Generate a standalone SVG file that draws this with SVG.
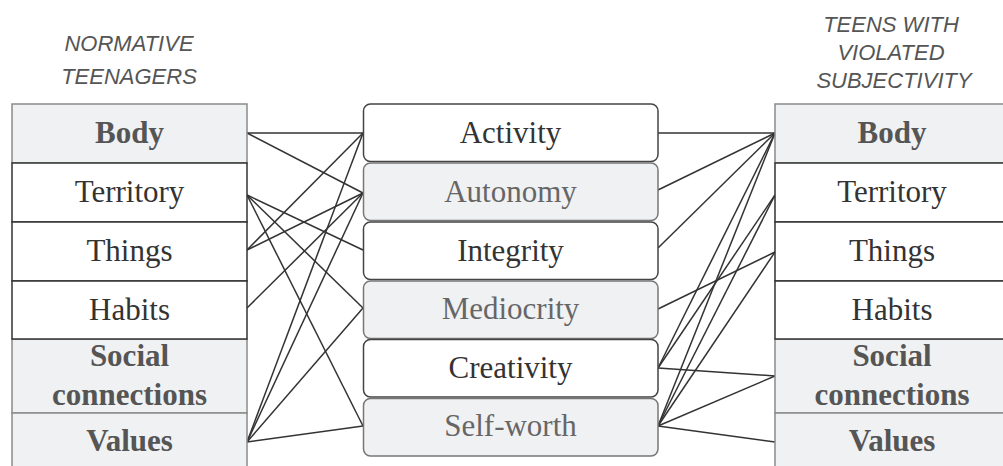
<svg xmlns="http://www.w3.org/2000/svg" width="1003" height="466" viewBox="0 0 1003 466">
<style>
.hdr{font-family:"Liberation Sans",Arial,sans-serif;font-style:italic;font-size:22px;fill:#555;text-anchor:middle}
.lbl{font-family:"Liberation Serif","Times New Roman",serif;font-size:31px;text-anchor:middle}
.b{font-weight:bold;fill:#555}
.r{fill:#333}
.g{fill:#666}
.cg{fill:#f0f1f3;stroke:#8a8a8a;stroke-width:1.5}
.cw{fill:#fff;stroke:#333;stroke-width:1.5}
.mw{fill:#fff;stroke:#444;stroke-width:1.5}
.mg{fill:#f0f1f3;stroke:#777;stroke-width:1.5}
.con line{stroke:#333;stroke-width:1.5}
</style>
<rect width="1003" height="466" fill="#fff"/>
<g id="header-left">
<text class="hdr" x="129" y="51">NORMATIVE</text>
<text class="hdr" x="129" y="84">TEENAGERS</text>
</g>
<g id="header-right">
<text class="hdr" x="891" y="32">TEENS WITH</text>
<text class="hdr" x="891" y="60">VIOLATED</text>
<text class="hdr" x="894" y="88">SUBJECTIVITY</text>
</g>
<g id="connectors" class="con">
<line x1="247" y1="133" x2="363" y2="133"/>
<line x1="247" y1="133" x2="363" y2="193"/>
<line x1="247" y1="195" x2="363" y2="250"/>
<line x1="247" y1="195" x2="363" y2="308"/>
<line x1="247" y1="195" x2="363" y2="426"/>
<line x1="247" y1="250" x2="363" y2="133"/>
<line x1="247" y1="250" x2="363" y2="193"/>
<line x1="247" y1="308" x2="363" y2="193"/>
<line x1="247" y1="442" x2="363" y2="133"/>
<line x1="247" y1="442" x2="363" y2="193"/>
<line x1="247" y1="442" x2="363" y2="308"/>
<line x1="247" y1="442" x2="363" y2="426"/>
<line x1="658" y1="133" x2="775" y2="133"/>
<line x1="658" y1="190" x2="775" y2="133"/>
<line x1="658" y1="248" x2="775" y2="133"/>
<line x1="658" y1="309" x2="775" y2="252"/>
<line x1="658" y1="368" x2="775" y2="133"/>
<line x1="658" y1="368" x2="775" y2="195"/>
<line x1="658" y1="368" x2="775" y2="376"/>
<line x1="658" y1="426" x2="775" y2="133"/>
<line x1="658" y1="426" x2="775" y2="195"/>
<line x1="658" y1="426" x2="775" y2="252"/>
<line x1="658" y1="426" x2="775" y2="376"/>
<line x1="658" y1="426" x2="775" y2="442"/>
</g>
<g id="left-body"><rect class="cg" x="12" y="104" width="235" height="59"/><text class="lbl b" x="129.5" y="143">Body</text></g>
<g id="left-social"><rect class="cg" x="12" y="339" width="235" height="74"/><text class="lbl b" x="129.5" y="366">Social</text><text class="lbl b" x="129.5" y="405">connections</text></g>
<g id="left-values"><rect class="cg" x="12" y="413" width="235" height="60"/><text class="lbl b" x="129.5" y="451">Values</text></g>
<g id="left-territory"><rect class="cw" x="12" y="163" width="235" height="59"/><text class="lbl r" x="129.5" y="202">Territory</text></g>
<g id="left-things"><rect class="cw" x="12" y="222" width="235" height="59"/><text class="lbl r" x="129.5" y="261">Things</text></g>
<g id="left-habits"><rect class="cw" x="12" y="281" width="235" height="58"/><text class="lbl r" x="129.5" y="319.5">Habits</text></g>
<g id="mid-activity"><rect class="mw" x="363.5" y="104" width="294.5" height="57.5" rx="7"/><text class="lbl r" x="510.5" y="142.5">Activity</text></g>
<g id="mid-autonomy"><rect class="mg" x="363.5" y="163" width="294.5" height="57.5" rx="7"/><text class="lbl g" x="510.5" y="201.5">Autonomy</text></g>
<g id="mid-integrity"><rect class="mw" x="363.5" y="222" width="294.5" height="57.5" rx="7"/><text class="lbl r" x="510.5" y="260.5">Integrity</text></g>
<g id="mid-mediocrity"><rect class="mg" x="363.5" y="281" width="294.5" height="57.5" rx="7"/><text class="lbl g" x="510.5" y="319">Mediocrity</text></g>
<g id="mid-creativity"><rect class="mw" x="363.5" y="339.5" width="294.5" height="57.5" rx="7"/><text class="lbl r" x="510.5" y="377.5">Creativity</text></g>
<g id="mid-selfworth"><rect class="mg" x="363.5" y="398.5" width="294.5" height="57.5" rx="7"/><text class="lbl g" x="510.5" y="436">Self-worth</text></g>
<g id="right-body"><rect class="cg" x="775" y="104" width="235" height="59"/><text class="lbl b" x="892" y="143">Body</text></g>
<g id="right-social"><rect class="cg" x="775" y="339" width="235" height="74"/><text class="lbl b" x="892" y="366">Social</text><text class="lbl b" x="892" y="405">connections</text></g>
<g id="right-values"><rect class="cg" x="775" y="413" width="235" height="60"/><text class="lbl b" x="892" y="451">Values</text></g>
<g id="right-territory"><rect class="cw" x="775" y="163" width="235" height="59"/><text class="lbl r" x="892" y="202">Territory</text></g>
<g id="right-things"><rect class="cw" x="775" y="222" width="235" height="59"/><text class="lbl r" x="892" y="261">Things</text></g>
<g id="right-habits"><rect class="cw" x="775" y="281" width="235" height="58"/><text class="lbl r" x="892" y="319.5">Habits</text></g>
</svg>
